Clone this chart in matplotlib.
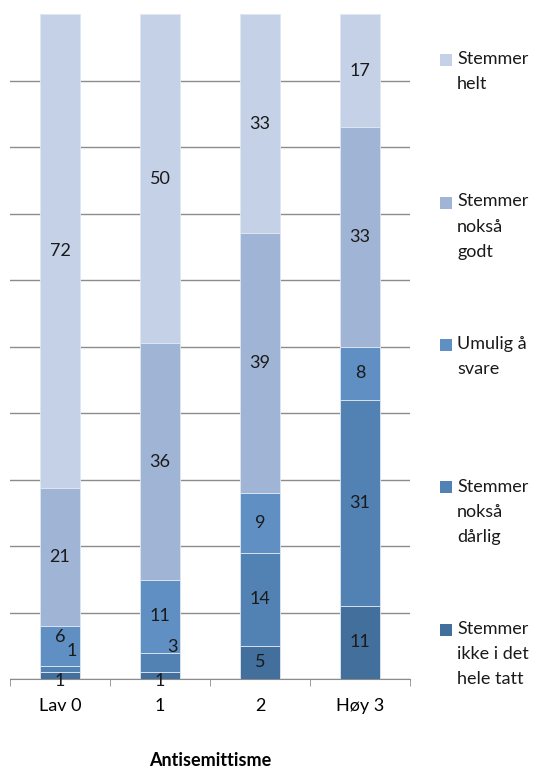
"""
100 % stacked bars: agreement by antisemitism level.
"""

import matplotlib
matplotlib.use("Agg")
import matplotlib.pyplot as plt
from matplotlib.patches import Rectangle
import numpy as np

categories = ["Lav 0", "1", "2", "Høy 3"]
series = [
    "Stemmer\nikke i det\nhele tatt",
    "Stemmer\nnokså\ndårlig",
    "Umulig å\nsvare",
    "Stemmer\nnokså\ngodt",
    "Stemmer\nhelt",
]
ikke = [1, 1, 5, 11]
darlig = [1, 3, 14, 31]
umulig = [6, 11, 9, 8]
godt = [21, 36, 39, 33]
helt = [72, 50, 33, 17]
colors = ["#426f9b", "#5282b3", "#5f8fc3", "#a0b5d6", "#c4d1e6"]

# label nudges (pixels) for the crowded small segments
nudges = {(0, 0): (0, -5), (0, 1): (0, -5), (1, 0): (12, 18), (2, 0): (0, 9),
          (1, 1): (12, 16)}

plt.rcParams["font.family"] = ["Lato", "DejaVu Sans"]
W, H = 543, 771
fig = plt.figure(figsize=(W / 100, H / 100), dpi=100)
ax = fig.add_axes([10 / W, 1 - 679 / H, 400 / W, 665 / H])

data = np.array([ikke, darlig, umulig, godt, helt], dtype=float)
pct = data / data.sum(axis=0) * 100
x = np.arange(len(categories))
bottom = np.zeros(len(categories))
for i, (name, row) in enumerate(zip(series, pct)):
    bars = ax.bar(x, row, 0.4, bottom=bottom, color=colors[i],
                  edgecolor="#dfe7f2", linewidth=0.6, zorder=3)
    for j, b in enumerate(bars):
        cx = b.get_x() + b.get_width() / 2
        cy = bottom[j] + row[j] / 2
        dx, dy = nudges.get((i, j), (0, 0))
        ax.annotate(f"{int(data[i, j])}", (cx, cy), xytext=(dx * 0.72, dy * 0.72),
                    textcoords="offset points", ha="center", va="center",
                    fontsize=13, color="#1a1a1a", zorder=5)
    bottom += row

ax.set_xlim(-0.5, len(categories) - 0.5)
ax.set_ylim(0, 100)
ax.set_yticks(np.arange(0, 100, 10))
ax.yaxis.grid(True, color="#8c8c8c", linewidth=1.0, zorder=0)
ax.tick_params(axis="y", left=False, labelleft=False)
ax.set_xticks(x)
ax.set_xticklabels(categories, fontsize=13)
ax.set_xticks(np.arange(-0.5, len(categories)), minor=True)
ax.tick_params(axis="x", which="major", length=0, pad=14)
ax.tick_params(axis="x", which="minor", length=5, direction="out", color="#8c8c8c")
for s in ["top", "right", "left"]:
    ax.spines[s].set_visible(False)
ax.spines["bottom"].set_color("#8c8c8c")
ax.set_xlabel("Antisemittisme", fontsize=13, fontweight="bold", labelpad=27)

# legend on the right, top entry first
for k, i in enumerate(reversed(range(len(series)))):
    top = 54 + k * 142.5
    fig.add_artist(Rectangle((440 / W, 1 - (top + 12) / H), 12 / W, 12 / H,
                             facecolor=colors[i], edgecolor="none",
                             transform=fig.transFigure))
    fig.text(457 / W, 1 - (top - 3) / H, series[i], fontsize=13,
             va="top", ha="left", linespacing=1.7, color="#1a1a1a")

fig.savefig("out.png", dpi=100)
